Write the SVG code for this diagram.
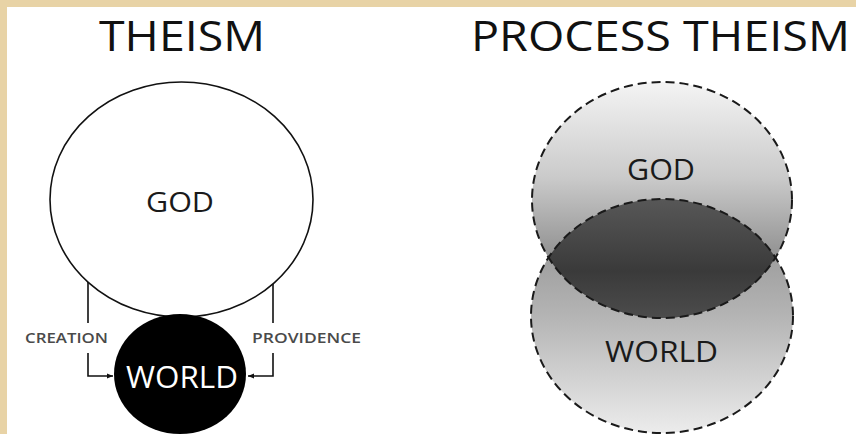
<svg xmlns="http://www.w3.org/2000/svg" width="856" height="434" viewBox="0 0 856 434">
  <defs>
    <style>
      .t { font-family: "Open Sans", "Liberation Sans", sans-serif; text-anchor: middle; }
      .title { font-size: 42px; fill: #111; }
      .lbl { font-size: 27px; fill: #1a1a1a; }
      .small { font-size: 15px; fill: #4a4a4a; font-weight: 600; }
      .line { fill: none; stroke: #111; stroke-width: 1.6; }
      .dash { fill: none; stroke: #1a1a1a; stroke-width: 2; stroke-dasharray: 9 5; }
    </style>
    <marker id="arr" viewBox="0 0 10 10" refX="10" refY="5" markerWidth="6" markerHeight="6" markerUnits="userSpaceOnUse" orient="auto">
      <path d="M0,1 L10,5 L0,9 z" fill="#111"/>
    </marker>
    <linearGradient id="gGod" x1="0" y1="0" x2="0" y2="1">
      <stop offset="0" stop-color="#f4f4f4"/>
      <stop offset="0.4" stop-color="#cbcbcb"/>
      <stop offset="0.7" stop-color="#989898"/>
      <stop offset="1" stop-color="#6a6a6a"/>
    </linearGradient>
    <linearGradient id="gWorld" x1="0" y1="0" x2="0" y2="1">
      <stop offset="0" stop-color="#8a8a8a"/>
      <stop offset="0.5" stop-color="#b4b4b4"/>
      <stop offset="1" stop-color="#ececec"/>
    </linearGradient>
    <linearGradient id="gLens" x1="0" y1="200" x2="0" y2="318" gradientUnits="userSpaceOnUse">
      <stop offset="0" stop-color="#575757"/>
      <stop offset="0.6" stop-color="#3a3a3a"/>
      <stop offset="1" stop-color="#4c4c4c"/>
    </linearGradient>
    <clipPath id="clipGod">
      <ellipse cx="662" cy="200" rx="130" ry="118"/>
    </clipPath>
  </defs>

  <rect x="0" y="0" width="856" height="434" fill="#e8d3a6"/>
  <rect x="7" y="7" width="849" height="427" fill="#ffffff"/>

  <g id="theism-title">
    <text class="t title" x="182" y="51" textLength="166" lengthAdjust="spacingAndGlyphs">THEISM</text>
  </g>

  <g id="connectors">
    <path class="line" d="M88,282 V323 M88,353 V376 H113" marker-end="url(#arr)"/>
    <path class="line" d="M273,284 V323 M273,353 V376 H248" marker-end="url(#arr)"/>
  </g>

  <g id="god-theism">
    <ellipse cx="181.5" cy="199.5" rx="131.5" ry="117.5" fill="#ffffff" stroke="#111" stroke-width="1.6"/>
    <text class="t lbl" x="180" y="212" textLength="68" lengthAdjust="spacingAndGlyphs">GOD</text>
  </g>

  <g id="world-theism">
    <ellipse cx="180" cy="374" rx="66" ry="60" fill="#000000"/>
    <text class="t" x="182" y="388" font-size="31" fill="#ffffff" textLength="112" lengthAdjust="spacingAndGlyphs">WORLD</text>
  </g>

  <g id="creation-label">
    <text class="t small" x="66.5" y="343" textLength="83" lengthAdjust="spacingAndGlyphs">CREATION</text>
  </g>
  <g id="providence-label">
    <text class="t small" x="306.5" y="343" textLength="109" lengthAdjust="spacingAndGlyphs">PROVIDENCE</text>
  </g>

  <g id="process-title">
    <text class="t title" x="660.5" y="51" textLength="379" lengthAdjust="spacingAndGlyphs">PROCESS THEISM</text>
  </g>

  <g id="world-process">
    <ellipse cx="662" cy="316" rx="131" ry="117" fill="url(#gWorld)"/>
  </g>
  <g id="god-process">
    <ellipse cx="662" cy="200" rx="130" ry="118" fill="url(#gGod)"/>
    <ellipse cx="662" cy="316" rx="131" ry="117" fill="url(#gLens)" clip-path="url(#clipGod)"/>
    <ellipse class="dash" cx="662" cy="316" rx="131" ry="117"/>
    <ellipse class="dash" cx="662" cy="200" rx="130" ry="118"/>
    <text class="t" x="661" y="180" font-size="30" fill="#1a1a1a" textLength="68" lengthAdjust="spacingAndGlyphs">GOD</text>
    <text class="t" x="661.5" y="362" font-size="30" fill="#1a1a1a" textLength="113" lengthAdjust="spacingAndGlyphs">WORLD</text>
  </g>
</svg>
